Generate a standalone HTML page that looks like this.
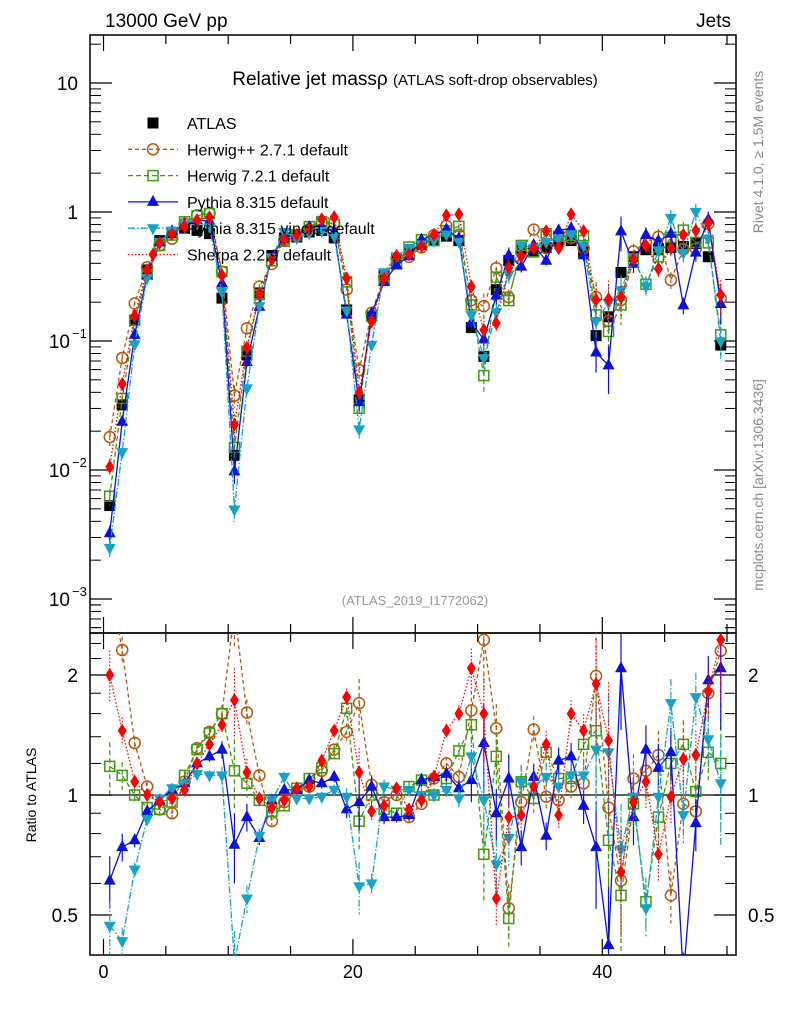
<!DOCTYPE html>
<html><head><meta charset="utf-8"><style>
body{margin:0;background:#fff;}
svg{display:block;font-family:"Liberation Sans",sans-serif;}
</style></head><body>
<svg id="c" width="786" height="1024" viewBox="0 0 786 1024" xmlns="http://www.w3.org/2000/svg">
<defs>
<clipPath id="cm"><rect x="90" y="35" width="646" height="598"/></clipPath>
<clipPath id="cr"><rect x="90" y="633" width="646" height="322"/></clipPath>
</defs>
<text x="105" y="27" font-size="19">13000 GeV pp</text>
<text x="731" y="27" font-size="19" text-anchor="end">Jets</text>
<text x="415" y="85" font-size="19" text-anchor="middle">Relative jet massρ <tspan font-size="15">(ATLAS soft-drop observables)</tspan></text>
<text x="415" y="605" font-size="13" fill="#999" text-anchor="middle">(ATLAS_2019_I1772062)</text>
<text transform="translate(763,152) rotate(-90)" font-size="14" fill="#888" text-anchor="middle">Rivet 4.1.0, ≥ 1.5M events</text>
<text transform="translate(763,485) rotate(-90)" font-size="14" fill="#888" text-anchor="middle">mcplots.cern.ch [arXiv:1306.3436]</text>
<text transform="translate(36,795) rotate(-90)" font-size="14" text-anchor="middle">Ratio to ATLAS</text>
<g id="axes"></g>
<g id="mainMarks" clip-path="url(#cm)"></g>
<g id="ratioMarks" clip-path="url(#cr)"></g>
<g id="legend"></g>
</svg>
<script>
const atlas=[0.0053,0.032,0.145,0.355,0.6,0.69,0.75,0.72,0.68,0.215,0.013,0.078,0.236,0.46,0.63,0.64,0.7,0.72,0.63,0.174,0.035,0.156,0.325,0.44,0.51,0.56,0.6,0.65,0.6,0.127,0.076,0.25,0.42,0.51,0.5,0.53,0.59,0.6,0.49,0.11,0.154,0.34,0.45,0.51,0.51,0.53,0.54,0.57,0.45,0.093];
const rHerwigPP=[3.4,2.31,1.35,1.05,0.92,0.9,1.08,1.31,1.44,1.6,2.9,1.61,1.12,0.86,0.96,1.02,1.05,1.15,1.3,1.44,1.7,1.06,0.96,1.0,0.88,0.95,1.1,1.2,1.11,1.63,2.45,1.47,0.52,0.96,1.46,0.99,0.97,1.05,1.07,1.99,0.93,0.61,1.1,1.15,1.26,0.56,0.95,0.91,1.8,2.3];
const rHerwig7=[1.18,1.12,1.0,0.93,0.92,0.96,1.12,1.3,1.43,1.6,1.15,1.07,0.97,0.91,0.94,1.04,1.1,1.17,1.27,1.65,0.86,1.0,0.92,0.9,1.05,1.09,1.0,1.1,1.29,1.5,0.71,1.25,0.49,1.08,0.98,1.28,1.1,1.1,1.34,1.45,0.77,0.56,0.95,0.54,0.88,1.2,1.34,1.02,1.28,1.2];
const rPythia=[0.61,0.74,0.77,0.91,0.97,1.03,1.07,1.2,1.25,1.3,0.75,0.88,0.78,0.97,1.03,1.03,1.09,1.07,1.11,0.92,0.96,1.05,0.88,0.88,0.89,1.09,1.11,1.13,1.04,1.09,1.35,0.9,1.1,0.74,1.11,0.79,1.22,1.25,0.94,0.74,0.42,2.08,0.88,1.3,1.17,1.28,0.35,0.85,1.94,2.08];
const rVincia=[0.47,0.43,0.65,0.87,0.98,1.04,1.07,1.13,1.12,1.12,0.38,0.55,0.79,0.97,1.11,0.98,0.98,0.99,1.03,0.99,0.59,0.6,1.05,1.03,1.03,1.0,1.0,1.03,0.98,1.25,0.97,0.67,0.78,1.08,1.05,1.11,1.05,1.12,1.12,1.3,1.28,0.73,0.99,0.52,0.99,1.7,0.89,1.76,1.38,1.07];
const rSherpa=[2.0,1.45,1.08,1.0,0.96,0.98,1.03,1.2,1.34,1.5,1.73,1.14,0.98,0.93,0.97,1.04,1.05,1.22,1.45,1.76,1.14,0.91,0.94,1.04,0.92,0.97,1.11,1.45,1.6,2.08,1.6,0.55,0.88,0.89,1.05,1.34,0.89,1.6,1.45,1.9,1.37,0.64,0.96,1.08,0.71,0.99,1.23,1.26,1.82,2.45];
const relErr=[0.15,0.08,0.04,0.03,0.03,0.03,0.03,0.03,0.03,0.05,0.2,0.08,0.04,0.03,0.03,0.03,0.03,0.03,0.03,0.05,0.15,0.06,0.04,0.03,0.03,0.04,0.04,0.04,0.05,0.12,0.25,0.15,0.15,0.1,0.08,0.08,0.08,0.08,0.1,0.3,0.4,0.3,0.15,0.15,0.15,0.15,0.15,0.15,0.15,0.3];
const xTicksMajor=[0,20,40];
const xTicksMinor=[5,10,15,25,30,35,45,50];
const yMainLabels=[["10",""],["1",""],["10","−1"],["10","−2"],["10","−3"]];
const yMainDecades=[1,0,-1,-2,-3];
const yRatioLabels=[2,1,0.5];

const NS="http://www.w3.org/2000/svg";
const X=v=>103.5+12.47*v;
const YM=v=>212-129*Math.log10(v);
const YR=v=>795-120*Math.log2(v);
function el(t,a,p){const e=document.createElementNS(NS,t);for(const k in a)e.setAttribute(k,a[k]);p.appendChild(e);return e;}
const axes=document.getElementById('axes');
// frames
let f1=el('rect',{x:90,y:35,width:646,height:598,fill:'none',stroke:'#000','stroke-width':1.5},axes);


let f2=el('rect',{x:90,y:633,width:646,height:322,fill:'none',stroke:'#000','stroke-width':1.5},axes);


let one=el('line',{x1:90,x2:736,y1:YR(1),y2:YR(1),stroke:'#000','stroke-width':1.3},axes);


// x ticks
function xt(v,len){[[35,1],[633,-1],[633,1],[955,-1]].forEach(([y0,d])=>{el('line',{x1:X(v),x2:X(v),y1:y0,y2:y0+d*len,stroke:'#000','stroke-width':1.2},axes);});}
xTicksMajor.forEach(v=>{xt(v,16);const t=el('text',{x:X(v),y:978,'font-size':18,'text-anchor':'middle'},axes);t.textContent=v;

});
xTicksMinor.forEach(v=>xt(v,9));
// main y ticks
yMainDecades.forEach((d,i)=>{const y=YM(Math.pow(10,d));
 el('line',{x1:90,x2:112,y1:y,y2:y,stroke:'#000','stroke-width':1.2},axes);
 el('line',{x1:736,x2:714,y1:y,y2:y,stroke:'#000','stroke-width':1.2},axes);
 const t=el('text',{x:i<2?78:70,y:y+7,'font-size':19,'text-anchor':'end'},axes);t.textContent=yMainLabels[i][0];
 
 
 if(yMainLabels[i][1]){const s=el('text',{x:72,y:y-3,'font-size':13,'text-anchor':'start'},axes);s.textContent=yMainLabels[i][1];}
 for(let m=2;m<10;m++){const yy=YM(m*Math.pow(10,d-1));if(yy>35&&yy<633){el('line',{x1:90,x2:101,y1:yy,y2:yy,stroke:'#000'},axes);el('line',{x1:736,x2:725,y1:yy,y2:yy,stroke:'#000'},axes);}}
});
for(let m=2;m<10;m++){const yy=YM(m*10);if(yy>35){el('line',{x1:90,x2:101,y1:yy,y2:yy,stroke:'#000'},axes);el('line',{x1:736,x2:725,y1:yy,y2:yy,stroke:'#000'},axes);}}
for(let m=2;m<10;m++){const yy=YM(m*1e-4);if(yy<633){el('line',{x1:90,x2:101,y1:yy,y2:yy,stroke:'#000'},axes);el('line',{x1:736,x2:725,y1:yy,y2:yy,stroke:'#000'},axes);}}
// ratio y ticks
yRatioLabels.forEach(v=>{const y=YR(v);
 el('line',{x1:90,x2:112,y1:y,y2:y,stroke:'#000','stroke-width':1.2},axes);
 el('line',{x1:736,x2:714,y1:y,y2:y,stroke:'#000','stroke-width':1.2},axes);
 const t=el('text',{x:78,y:y+7,'font-size':19,'text-anchor':'end'},axes);t.textContent=v;
 
 
 const t2=el('text',{x:748,y:y+7,'font-size':19},axes);t2.textContent=v;
 
 
});
[0.6,0.7,0.8,0.9,1.2,1.4,1.6,1.8,2.2,2.4].forEach(v=>{const y=YR(v);el('line',{x1:90,x2:101,y1:y,y2:y,stroke:'#000'},axes);el('line',{x1:736,x2:725,y1:y,y2:y,stroke:'#000'},axes);});

function marker(g,type,x,y,c){
 if(type==='sq')return el('rect',{x:x-5.5,y:y-5.5,width:11,height:11,fill:c},g);
 if(type==='osq')return el('rect',{x:x-5,y:y-5,width:10,height:10,fill:'none',stroke:c,'stroke-width':1.5},g);
 if(type==='circ')return el('circle',{cx:x,cy:y,r:5.5,fill:'none',stroke:c,'stroke-width':1.5},g);
 if(type==='up')return el('path',{d:`M${x},${y-7}L${x+6},${y+4}L${x-6},${y+4}Z`,fill:c},g);
 if(type==='dn')return el('path',{d:`M${x},${y+7}L${x+6},${y-4}L${x-6},${y-4}Z`,fill:c},g);
 if(type==='dia')return el('path',{d:`M${x},${y-7}L${x+4.5},${y}L${x},${y+7}L${x-4.5},${y}Z`,fill:c},g);
}
const series=[
 {name:'herwigpp',ratio:rHerwigPP,col:'#b8560f',dash:'4,3',m:'circ',label:'Herwig++ 2.7.1 default'},
 {name:'herwig7',ratio:rHerwig7,col:'#3f9a10',dash:'5,3',m:'osq',label:'Herwig 7.2.1 default'},
 {name:'pythia',ratio:rPythia,col:'#0a12d8',dash:'',m:'up',label:'Pythia 8.315 default'},
 {name:'vincia',ratio:rVincia,col:'#17a2c6',dash:'7,2,1.5,2',m:'dn',label:'Pythia 8.315 vincia-default'},
 {name:'sherpa',ratio:rSherpa,col:'#ff0000',dash:'1.5,2',m:'dia',label:'Sherpa 2.2.9 default'}
];
const gm=document.getElementById('mainMarks'),gr=document.getElementById('ratioMarks');
series.forEach(s=>{
 const gMain=el('g',{},gm);
 const gRat=el('g',{},gr);
 const pm=[],pr=[];
 s.ratio.forEach((r,i)=>{const v=atlas[i]*r;const x=X(i+0.5);
  pm.push(`${x},${YM(v)}`);pr.push(`${x},${YR(r)}`);
  const e=relErr[i];
  el('line',{x1:x,x2:x,y1:YM(v*(1+e)),y2:YM(Math.max(v*(1-e),1e-5)),stroke:s.col,'stroke-width':1.2,'stroke-dasharray':s.dash},gMain);
  el('line',{x1:x,x2:x,y1:YR(r*(1+e)),y2:YR(Math.max(r*(1-e),0.01)),stroke:s.col,'stroke-width':1.2,'stroke-dasharray':s.dash},gRat);
 });
 el('polyline',{points:pm.join(' '),fill:'none',stroke:s.col,'stroke-width':1.3,'stroke-dasharray':s.dash},gMain);
 el('polyline',{points:pr.join(' '),fill:'none',stroke:s.col,'stroke-width':1.3,'stroke-dasharray':s.dash},gRat);
 s.ratio.forEach((r,i)=>{const x=X(i+0.5);
  const a=marker(gMain,s.m,x,YM(atlas[i]*r),s.col);
  
  
  const b=marker(gRat,s.m,x,YR(r),s.col);
  
  
 });
});
// ATLAS data
const ga=el('g',{},gm);
atlas.forEach((v,i)=>{const x=X(i+0.5);
 const m=marker(ga,'sq',x,YM(v),'#000');
 
 
});
ga.parentNode.insertBefore(ga,ga.parentNode.firstChild);
// legend
const lg=document.getElementById('legend');


const ly0=123,ldy=26.3;
const ea=el('g',{},lg);
marker(ea,'sq',153,ly0,'#000');
let t0=el('text',{x:187,y:ly0+6,'font-size':16},ea);t0.textContent='ATLAS';
series.forEach((s,k)=>{const y=ly0+ldy*(k+1);
 const g=el('g',{},lg);
 el('line',{x1:128,x2:178,y1:y,y2:y,stroke:s.col,'stroke-width':1.3,'stroke-dasharray':s.dash},g);
 marker(g,s.m,153,y,s.col);
 const t=el('text',{x:187,y:y+6,'font-size':16},g);t.textContent=s.label;
});
</script>
</body></html>
